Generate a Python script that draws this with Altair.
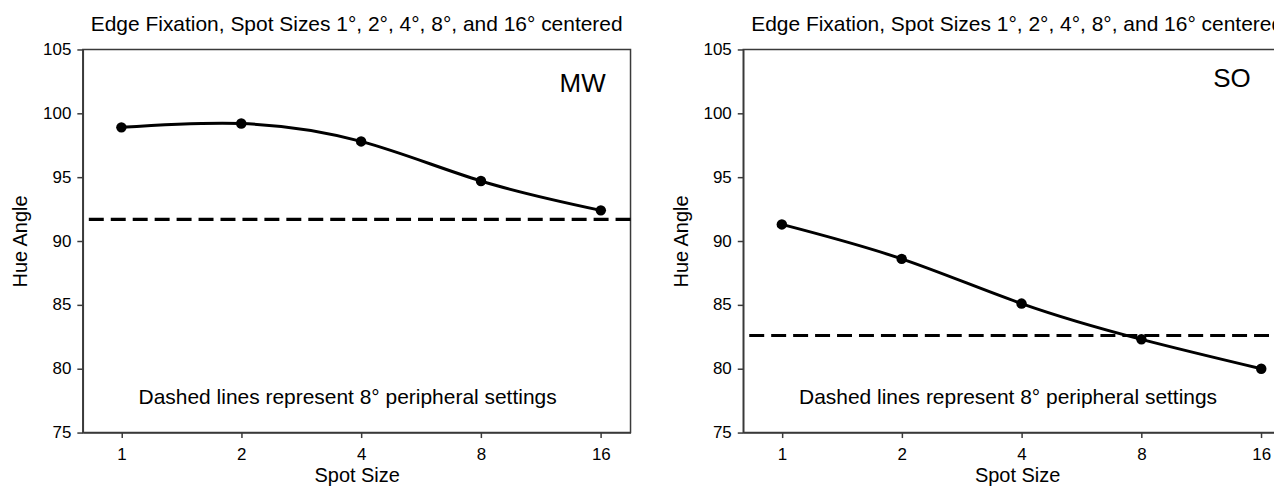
import altair as alt
import pandas as pd

spot_sizes = [1, 2, 4, 8, 16]
mw_hue = [98.9, 99.2, 97.8, 94.7, 92.4]
so_hue = [91.3, 88.6, 85.1, 82.3, 80.0]
peripheral = {"MW": 91.7, "SO": 82.6}
subjects = ["MW", "SO"]
panel_title = "Edge Fixation, Spot Sizes 1°, 2°, 4°, 8°, and 16° centered"
note_text = "Dashed lines represent 8° peripheral settings"
# annotation anchors in data coordinates (spot size, hue angle)
label_pos = {"MW": (14.4, 102.3), "SO": (13.5, 102.7)}
note_pos = (3.7, 77.7)
x_ticks = [1, 2, 4, 8, 16]
y_ticks = [75, 80, 85, 90, 95, 100, 105]

series = {"MW": mw_hue, "SO": so_hue}

FONT = "Liberation Sans"
AXIS_COLOR = "#3a3a3a"

X_SCALE = alt.Scale(type="log", base=2, domain=[0.8, 19])
Y_SCALE = alt.Scale(domain=[75, 105], nice=False, zero=False)


def xenc():
    return alt.X(
        "size:Q", scale=X_SCALE,
        axis=alt.Axis(values=x_ticks, format="d", title="Spot Size", grid=False,
                      tickSize=5, labelPadding=9, titlePadding=3),
    )


def yenc():
    return alt.Y(
        "hue:Q", scale=Y_SCALE,
        axis=alt.Axis(values=y_ticks, title="Hue Angle", grid=False,
                      tickSize=6, labelPadding=6, titlePadding=12),
    )


def panel(subj):
    df = pd.DataFrame({"size": spot_sizes, "hue": series[subj]})
    line = alt.Chart(df).mark_line(color="black", strokeWidth=3, interpolate="natural").encode(x=xenc(), y=yenc())
    pts = alt.Chart(df).mark_circle(color="black", size=110, opacity=1).encode(x=xenc(), y=yenc())
    rule_df = pd.DataFrame({"hue": [peripheral[subj]]})
    rule = alt.Chart(rule_df).mark_rule(color="black", strokeWidth=3.2, strokeDash=[15, 7]).encode(y=yenc())
    lab_df = pd.DataFrame({"size": [label_pos[subj][0]], "hue": [label_pos[subj][1]], "t": [subj]})
    lab = alt.Chart(lab_df).mark_text(fontSize=26, font=FONT, color="black", align="center", baseline="middle").encode(
        x=xenc(), y=yenc(), text="t:N")
    note_df = pd.DataFrame({"size": [note_pos[0]], "hue": [note_pos[1]], "t": [note_text]})
    note = alt.Chart(note_df).mark_text(fontSize=21, font=FONT, color="black", align="center", baseline="middle").encode(
        x=xenc(), y=yenc(), text="t:N")
    return alt.layer(rule, line, pts, lab, note).properties(
        width=549, height=384,
        title=alt.TitleParams(panel_title, fontSize=21, font=FONT, fontWeight="normal", color="black", offset=6),
    )


chart = alt.hconcat(panel("MW"), panel("SO"), spacing=36).properties(
    padding={"left": 1, "top": 4, "right": -20, "bottom": 0}
).configure(font=FONT).configure_view(
    stroke=AXIS_COLOR, strokeWidth=1.5
).configure_axis(
    labelFont=FONT, titleFont=FONT, labelFontSize=17, titleFontSize=20,
    labelColor="black", titleColor="black", titleFontWeight="normal",
    domainColor=AXIS_COLOR, tickColor=AXIS_COLOR, domainWidth=1.5, tickWidth=1.5,
)

chart.save("out.html", embed_options={"renderer": "svg", "actions": False})
